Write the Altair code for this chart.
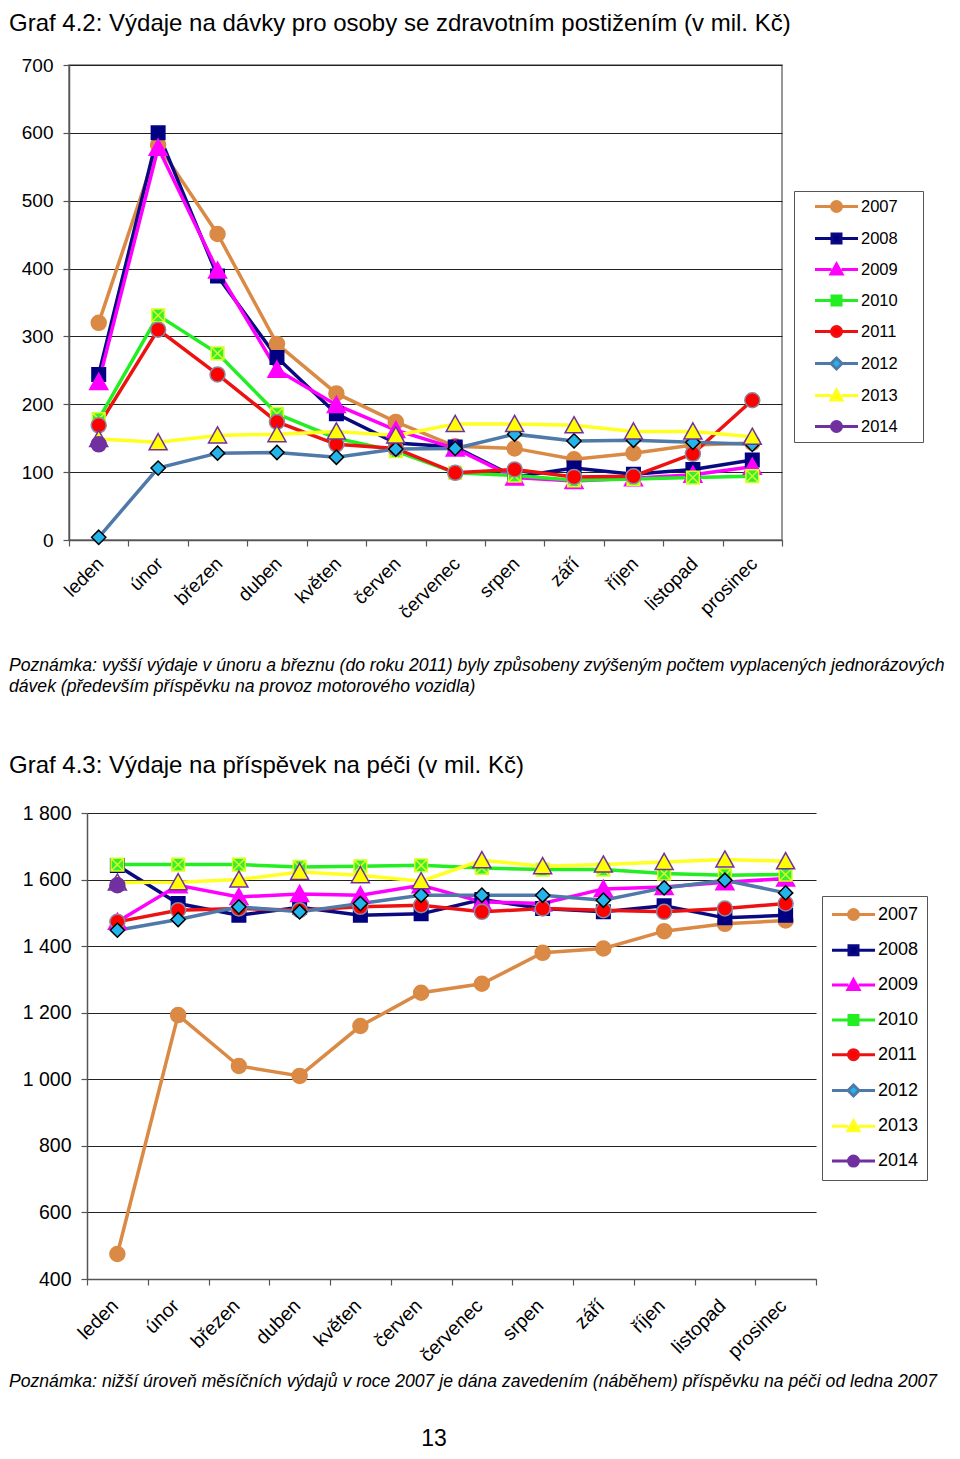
import altair as alt
import pandas as pd

FONT = "Liberation Sans"

months = ["leden", "únor", "březen", "duben", "květen", "červen",
          "červenec", "srpen", "září", "říjen", "listopad", "prosinec"]
years = ["2007", "2008", "2009", "2010", "2011", "2012", "2013", "2014"]

title1 = "Graf 4.2: Výdaje na dávky pro osoby se zdravotním postižením (v mil. Kč)"
note1 = ["Poznámka: vyšší výdaje v únoru a březnu (do roku 2011) byly způsobeny zvýšeným počtem vyplacených jednorázových",
         "dávek (především příspěvku na provoz motorového vozidla)"]
title2 = "Graf 4.3: Výdaje na příspěvek na péči (v mil. Kč)"
note2 = "Poznámka: nižší úroveň měsíčních výdajů v roce 2007 je dána zavedením (náběhem) příspěvku na péči od ledna 2007"
page_no = "13"

# Graf 4.2 (mil. Kč)
g1_2007 = [320, 582, 451, 289, 216, 174, 138, 135, 119, 128, 140, 143]
g1_2008 = [244, 600, 389, 269, 186, 143, 137, 93, 106, 97, 104, 118]
g1_2009 = [233, 578, 397, 251, 199, 162, 135, 92, 87, 91, 96, 108]
g1_2010 = [178, 331, 275, 186, 150, 131, 99, 95, 88, 90, 92, 94]
g1_2011 = [169, 310, 244, 174, 141, 135, 99, 104, 93, 94, 127, 206]
g1_2012 = [4, 106, 128, 129, 122, 134, 135, 156, 146, 147, 144, 141]
g1_2013 = [149, 144, 154, 156, 160, 154, 171, 171, 169, 160, 160, 152]
g1_2014 = [141]

# Graf 4.3 (mil. Kč)
g2_2007 = [475, 1193, 1040, 1010, 1160, 1260, 1287, 1380, 1393, 1445, 1467, 1477]
g2_2008 = [1642, 1528, 1493, 1517, 1493, 1497, 1540, 1513, 1503, 1521, 1485, 1493]
g2_2009 = [1473, 1583, 1548, 1557, 1553, 1583, 1533, 1528, 1572, 1578, 1592, 1603]
g2_2010 = [1645, 1645, 1645, 1638, 1640, 1643, 1635, 1630, 1630, 1618, 1613, 1615]
g2_2011 = [1473, 1508, 1513, 1508, 1518, 1523, 1503, 1513, 1508, 1503, 1513, 1528]
g2_2012 = [1448, 1480, 1518, 1503, 1528, 1553, 1553, 1553, 1538, 1575, 1598, 1560]
g2_2013 = [1591, 1592, 1600, 1623, 1613, 1595, 1658, 1640, 1645, 1653, 1660, 1655]
g2_2014 = [1583]

y1_ticks = [0, 100, 200, 300, 400, 500, 600, 700]
y2_ticks = [400, 600, 800, 1000, 1200, 1400, 1600, 1800]

line_colors = ["#DA8A45", "#0A0A80", "#FF00FF", "#22EE22", "#EE1111", "#4F79A8", "#FFFF22", "#7030A0"]
marker_fill = ["#DA8A45", "#000080", "#FF00FF", "#33EE33", "#FF0000", "#22B4EA", "#FFFF00", "#7030A0"]
marker_stroke = ["#DA8A45", "#000080", "#FF00FF", "#D8FF20", "#8A8AA0", "#000000", "#7030A0", "#7030A0"]

SQ = "M-0.9 -0.9H0.9V0.9H-0.9Z"
TRI = "M0 -1.15L1.2 1H-1.2Z"
DIA = "M0 -0.95L0.95 0L0 0.95L-0.95 0Z"
XSQ = "M-0.85 -0.85H0.85V0.85H-0.85Z M-0.85 -0.85L0.85 0.85 M0.85 -0.85L-0.85 0.85"
marker_shapes = ["circle", SQ, TRI, XSQ, "circle", DIA, TRI, "circle"]

# legend symbols: line segment with the marker in the middle
LN = "M-2.15 0H-0.5M0.5 0H2.15 "
L_CIR = LN + "M-0.5 0A0.5 0.5 0 1 0 0.5 0A0.5 0.5 0 1 0 -0.5 0Z"
L_SQ = LN + "M-0.45 -0.45H0.45V0.45H-0.45Z"
L_TRI = LN + "M0 -0.55L0.55 0.45H-0.55Z"
L_DIA = LN + "M0 -0.55L0.55 0L0 0.55L-0.55 0Z"
L_XSQ = LN + "M-0.45 -0.45H0.45V0.45H-0.45Z M-0.45 -0.45L0.45 0.45M0.45 -0.45L-0.45 0.45"
legend_shapes = [L_CIR, L_SQ, L_TRI, L_XSQ, L_CIR, L_DIA, L_TRI, L_CIR]


def long_df(series):
    rows = []
    for yr, vals in series.items():
        for i, v in enumerate(vals):
            rows.append({"year": yr, "month": months[i], "mi": i, "v": v})
    return pd.DataFrame(rows)


df1 = long_df(dict(zip(years, [g1_2007, g1_2008, g1_2009, g1_2010, g1_2011, g1_2012, g1_2013, g1_2014])))
df2 = long_df(dict(zip(years, [g2_2007, g2_2008, g2_2009, g2_2010, g2_2011, g2_2012, g2_2013, g2_2014])))


def make_legend(lx, ly, fs, pad, sym_off, lab_off, row_pad, right_gap):
    return alt.Legend(
        orient="none", legendX=lx, legendY=ly,
        title="\u00a0", titleOrient="right", titlePadding=right_gap, titleFontSize=1,
        fillColor="white", strokeColor="#555555", padding=pad,
        symbolSize=400, symbolStrokeWidth=3, symbolOffset=sym_off,
        labelOffset=lab_off, rowPadding=row_pad,
        labelFont=FONT, labelFontSize=fs, labelColor="black",
    )


def panel(df, ydom, yticks, fs_axis, y_label_expr, legend, x_lab_pad, x_lab_off):
    xenc = alt.X(
        "month:N", sort=months,
        scale=alt.Scale(type="band", domain=months, paddingInner=0, paddingOuter=0),
        axis=alt.Axis(title=None, tickBand="extent", labelAngle=-45, labelAlign="right",
                      labelBaseline="top", labelPadding=x_lab_pad, labelOffset=x_lab_off,
                      labelFont=FONT, labelFontSize=fs_axis, labelColor="black",
                      labelOverlap=False, tickSize=6, tickColor="#555555", tickWidth=1.2,
                      domainColor="#555555", domainWidth=1.5, grid=False),
    )
    yaxis = dict(title=None, values=yticks, grid=True, gridColor="#222222", gridWidth=1.1,
                 tickSize=6, tickColor="#555555", tickWidth=1.2, domainColor="#555555",
                 domainWidth=1.5, labelPadding=10, labelFont=FONT, labelFontSize=fs_axis,
                 labelColor="black", labelOverlap=False, labelFlush=False)
    if y_label_expr:
        yaxis["labelExpr"] = y_label_expr
    yenc = alt.Y("v:Q", scale=alt.Scale(domain=ydom, nice=False, zero=False), axis=alt.Axis(**yaxis))
    base = alt.Chart(df)
    lines = base.mark_line(strokeWidth=3.5).encode(
        x=xenc, y=yenc,
        color=alt.Color("year:N", scale=alt.Scale(domain=years, range=line_colors), legend=None),
        order=alt.Order("mi:Q"),
    )
    points = base.mark_point(filled=True, size=225, strokeWidth=1.5, opacity=1).encode(
        x=xenc, y=yenc,
        fill=alt.Fill("year:N", scale=alt.Scale(domain=years, range=marker_fill), legend=None),
        stroke=alt.Stroke("year:N", scale=alt.Scale(domain=years, range=marker_stroke), legend=None),
        shape=alt.Shape("year:N", scale=alt.Scale(domain=years, range=marker_shapes), legend=None),
    )
    # legend-only layer (no rows pass the filter); its symbols are line + marker
    key = base.transform_filter("datum.v < -1000000").mark_point(
        filled=True, size=400, strokeWidth=3, opacity=1).encode(
        x=xenc, y=yenc,
        fill=alt.Fill("lyear:N", scale=alt.Scale(domain=years, range=marker_fill), legend=legend),
        stroke=alt.Stroke("lyear:N", scale=alt.Scale(domain=years, range=line_colors), legend=legend),
        shape=alt.Shape("lyear:N", scale=alt.Scale(domain=years, range=legend_shapes), legend=legend),
    ).transform_calculate(lyear="datum.year")
    return lines, points, key


def text_layer(text, x, y, size, italic=False, align="left", baseline="middle", line_height=21):
    return alt.Chart(pd.DataFrame({"t": [0]})).mark_text(
        text=text, align=align, baseline=baseline, fontSize=size, font=FONT,
        fontStyle="italic" if italic else "normal", color="black", lineHeight=line_height,
    ).encode(x=alt.value(x), y=alt.value(y))


# ---- Graf 4.2 ----
W1, H1 = 713, 475
lines1, points1, key1 = panel(df1, [0, 700], y1_ticks, 19, None,
                              make_legend(725, 126, 16.5, 4, 27, 13, 9, 21), 8, -5)
chart1 = alt.layer(
    lines1, points1, key1,
    text_layer(title1, -60, -41, 24),
    text_layer(note1, -60, 601, 17.6, italic=True),
).resolve_scale(fill="independent", stroke="independent", shape="independent").properties(
    width=W1, height=H1, view=alt.ViewBackground(stroke="#777777", strokeWidth=1.5))

# ---- Graf 4.3 ----
W2, H2 = 729, 466
lines2, points2, key2 = panel(df2, [400, 1800], y2_ticks, 19.5,
                              "replace(format(datum.value, ','), ',', ' ')",
                              make_legend(735, 83, 18, 7, 13, 13, 12.8, 2), 11, -9)
chart2 = alt.layer(
    lines2, points2, key2,
    text_layer(title2, -78, -47, 24),
    text_layer(note2, -78, 569, 17.6, italic=True),
    text_layer(page_no, 347, 626, 23, align="center"),
).resolve_scale(fill="independent", stroke="independent", shape="independent").properties(
    width=W2, height=H2)

spacer = alt.Chart(pd.DataFrame({"t": [0]})).mark_point(opacity=0).encode(
    x=alt.value(0), y=alt.value(0)).properties(width=18, height=1)
row2 = alt.hconcat(spacer, chart2, spacing=0, bounds="flush")

chart = alt.vconcat(chart1, row2, spacing=273, bounds="flush").properties(
    padding={"top": 3, "left": 0, "right": 0, "bottom": 0}
).configure(font=FONT).configure_view(strokeWidth=0)

chart.save("out.html", embed_options={"renderer": "svg", "actions": False})
